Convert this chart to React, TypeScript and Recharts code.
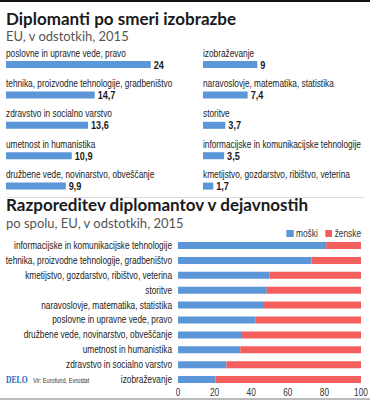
import { BarChart, Bar, XAxis, YAxis, LabelList, Legend } from "recharts";

const leftFields = [
  "poslovne in upravne vede, pravo",
  "tehnika, proizvodne tehnologije, gradbeništvo",
  "zdravstvo in socialno varstvo",
  "umetnost in humanistika",
  "družbene vede, novinarstvo, obveščanje",
];
const leftShares = [24, 14.7, 13.6, 10.9, 9.9];

const rightFields = [
  "izobraževanje",
  "naravoslovje, matematika, statistika",
  "storitve",
  "informacijske in komunikacijske tehnologije",
  "kmetijstvo, gozdarstvo, ribištvo, veterina",
];
const rightShares = [9, 7.4, 3.7, 3.5, 1.7];

const sectors = [
  "informacijske in komunikacijske tehnologije",
  "tehnika, proizvodne tehnologije, gradbeništvo",
  "kmetijstvo, gozdarstvo, ribištvo, veterina",
  "storitve",
  "naravoslovje, matematika, statistika",
  "poslovne in upravne vede, pravo",
  "družbene vede, novinarstvo, obveščanje",
  "umetnost in humanistika",
  "zdravstvo in socialno varstvo",
  "izobraževanje",
];
const men = [81, 73, 50, 48.5, 47, 42.5, 35, 34, 26.5, 20.5];
const women = [19, 27, 50, 51.5, 53, 57.5, 65, 66, 73.5, 79.5];
const shareTicks = [0, 20, 40, 60, 80, 100];

const BLUE = "#5b96d8";
const RED = "#f25f5c";
// no narrow font installed, so squeeze Liberation Sans like Arial Narrow
const SANS = "'Liberation Sans', Arial, sans-serif";
const SQUEEZE = 0.83;
const HEAD = "Lato, 'Open Sans', sans-serif";

const leftData = leftFields.map((name, i) => ({ name, value: leftShares[i] }));
const rightData = rightFields.map((name, i) => ({ name, value: rightShares[i] }));
const genderData = sectors.map((name, i) => ({ name, male: men[i], female: women[i] }));

const fmt = (v: number) => String(v).replace(".", ",");

const NameLabel = (props: any) => {
  const { x, y, value } = props;
  return (
    <text
      transform={`translate(${x},${y - 4.5}) scale(${SQUEEZE},1)`}
      fontSize={10}
      fill="#222"
      fontFamily={SANS}
    >
      {value}
    </text>
  );
};

const ValueLabel = (props: any) => {
  const { x, y, width, height, value } = props;
  return (
    <text
      transform={`translate(${x + width + 3},${y + height / 2 + 4}) scale(${SQUEEZE},1)`}
      fontSize={11}
      fontWeight="bold"
      fill="#1a1a1a"
      fontFamily={SANS}
    >
      {fmt(value)}
    </text>
  );
};

const SectorTick = (props: any) => {
  const { x, y, payload } = props;
  return (
    <text
      transform={`translate(${x},${y + 3.5}) scale(${SQUEEZE},1)`}
      textAnchor="end"
      fontSize={10}
      fill="#222"
      fontFamily={SANS}
    >
      {payload.value}
    </text>
  );
};

const ShareTick = (props: any) => {
  const { x, y, payload } = props;
  return (
    <text
      transform={`translate(${x},${y + 9}) scale(${SQUEEZE},1)`}
      textAnchor="middle"
      fontSize={10}
      fill="#333"
      fontFamily={SANS}
    >
      {payload.value}
    </text>
  );
};

const GenderLegend = (props: any) => (
  <div
    style={{
      display: "flex",
      justifyContent: "flex-end",
      alignItems: "center",
      height: 10,
      transform: `scaleX(${SQUEEZE})`,
      transformOrigin: "right center",
    }}
  >
    {props.payload.map((e: any) => (
      <span key={e.value} style={{ display: "flex", alignItems: "center", marginLeft: 9 }}>
        <span style={{ width: 7 / SQUEEZE, height: 7, background: e.color, marginRight: 3 }} />
        <span style={{ fontFamily: SANS, fontSize: 10, color: "#333" }}>{e.value}</span>
      </span>
    ))}
  </div>
);

function FieldColumn({ data }: { data: { name: string; value: number }[] }) {
  return (
    <BarChart
      width={210}
      height={152}
      data={data}
      layout="vertical"
      margin={{ top: 0, right: 23, left: 6, bottom: 0 }}
    >
      <XAxis type="number" domain={[0, 30]} hide />
      <YAxis type="category" dataKey="name" hide />
      <Bar dataKey="value" fill={BLUE} barSize={7} isAnimationActive={false}>
        <LabelList dataKey="name" content={<NameLabel />} />
        <LabelList dataKey="value" content={<ValueLabel />} />
      </Bar>
    </BarChart>
  );
}

const abs = (top: number, left: number): React.CSSProperties => ({
  position: "absolute",
  top,
  left,
});

const titleStyle: React.CSSProperties = {
  fontFamily: HEAD,
  fontWeight: 700,
  fontSize: 17,
  lineHeight: "20px",
  color: "#1a1a1a",
  whiteSpace: "nowrap",
};

const subStyle: React.CSSProperties = {
  fontFamily: HEAD,
  fontSize: 13,
  lineHeight: "15px",
  color: "#555",
  whiteSpace: "nowrap",
};

export default function App() {
  return (
    <div
      style={{
        position: "absolute",
        top: 0,
        left: 0,
        width: 370,
        height: 400,
        background: "#fff",
        overflow: "hidden",
      }}
    >
      <div style={{ ...abs(0, 0), width: 370, height: 2, background: "#111" }} />
      <div style={{ ...abs(9, 6), ...titleStyle }}>Diplomanti po smeri izobrazbe</div>
      <div style={{ ...abs(29, 6), ...subStyle }}>EU, v odstotkih, 2015</div>

      <div style={abs(49, 0)}>
        <FieldColumn data={leftData} />
      </div>
      <div style={abs(49, 197)}>
        <FieldColumn data={rightData} />
      </div>

      <div style={{ ...abs(197, 6), width: 358, height: 1, background: "#dcdcdc" }} />

      <div style={{ ...abs(195, 6), ...titleStyle }}>Razporeditev diplomantov v dejavnostih</div>
      <div style={{ ...abs(216, 6), ...subStyle }}>po spolu, EU, v odstotkih, 2015</div>

      <div style={abs(228, 0)}>
        <BarChart
          width={370}
          height={173}
          data={genderData}
          layout="vertical"
          margin={{ top: 0, right: 9, left: 0, bottom: 0 }}
          barCategoryGap={0}
        >
          <Legend verticalAlign="top" align="right" height={10} content={<GenderLegend />} />
          <XAxis
            type="number"
            domain={[0, 100]}
            ticks={shareTicks}
            interval={0}
            tickLine={false}
            axisLine={false}
            tickSize={0}
            tickMargin={0}
            height={14}
            tick={<ShareTick />}
          />
          <YAxis
            type="category"
            dataKey="name"
            width={178}
            tickLine={false}
            axisLine={false}
            tickSize={0}
            tickMargin={6}
            interval={0}
            tick={<SectorTick />}
          />
          <Bar dataKey="male" name="moški" stackId="g" fill={BLUE} barSize={7} isAnimationActive={false} />
          <Bar dataKey="female" name="ženske" stackId="g" fill={RED} barSize={7} isAnimationActive={false} />
        </BarChart>
      </div>

      <div
        style={{
          ...abs(375, 6),
          fontFamily: "'Liberation Serif', serif",
          fontWeight: 700,
          fontSize: 9.5,
          lineHeight: "11px",
          color: "#1d6db5",
          transform: "scaleX(0.8)",
          transformOrigin: "left center",
        }}
      >
        DELO
      </div>
      <div
        style={{
          ...abs(376, 33),
          fontFamily: SANS,
          fontSize: 7,
          lineHeight: "10px",
          color: "#333",
          whiteSpace: "nowrap",
          transform: "scaleX(0.8)",
          transformOrigin: "left center",
        }}
      >
        Vir: Eurofund, Evrostat
      </div>
      <div style={{ ...abs(398, 0), width: 370, height: 2, background: "#bbb" }} />
    </div>
  );
}
